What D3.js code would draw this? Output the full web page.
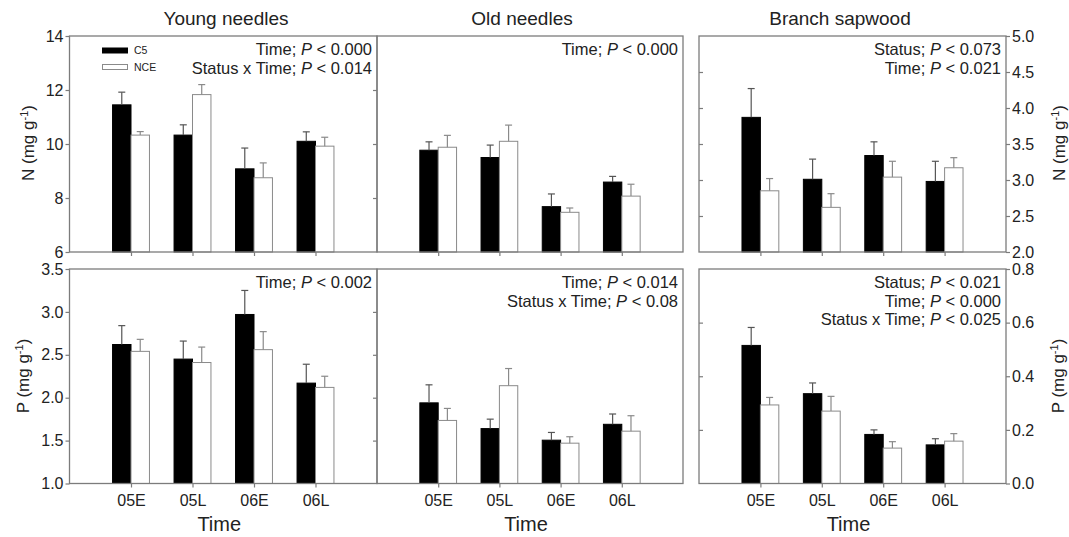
<!DOCTYPE html>
<html>
<head>
<meta charset="utf-8">
<script src="https://cdn.jsdelivr.net/npm/d3@7"></script>
<style>
  html, body { margin: 0; padding: 0; background: #fff; }
  svg { display: block; font-family: "Liberation Sans", Arial, sans-serif; }
</style>
</head>
<body>
<svg id="chart" width="1069" height="537"></svg>
<script>
// ---------------- DATA ----------------
const categories = ["05E", "05L", "06E", "06L"];
const seriesNames = ["C5", "NCE"];
const panelTitles = ["Young needles", "Old needles", "Branch sapwood"];

// N (mg g-1)
const youngN_C5 = [11.45, 10.33, 9.08, 10.10];
const youngN_C5_se = [0.47, 0.38, 0.77, 0.35];
const youngN_NCE = [10.33, 11.83, 8.75, 9.92];
const youngN_NCE_se = [0.13, 0.37, 0.55, 0.33];

const oldN_C5 = [9.77, 9.50, 7.68, 8.59];
const oldN_C5_se = [0.31, 0.46, 0.47, 0.21];
const oldN_NCE = [9.88, 10.10, 7.47, 8.07];
const oldN_NCE_se = [0.44, 0.60, 0.16, 0.44];

const sapN_C5 = [3.87, 3.01, 3.34, 2.98];
const sapN_C5_se = [0.40, 0.28, 0.19, 0.28];
const sapN_NCE = [2.85, 2.62, 3.04, 3.17];
const sapN_NCE_se = [0.17, 0.19, 0.22, 0.14];

// P (mg g-1)
const youngP_C5 = [2.62, 2.45, 2.97, 2.17];
const youngP_C5_se = [0.22, 0.21, 0.28, 0.22];
const youngP_NCE = [2.54, 2.41, 2.56, 2.12];
const youngP_NCE_se = [0.14, 0.18, 0.21, 0.13];

const oldP_C5 = [1.94, 1.64, 1.505, 1.69];
const oldP_C5_se = [0.21, 0.11, 0.09, 0.12];
const oldP_NCE = [1.735, 2.14, 1.47, 1.61];
const oldP_NCE_se = [0.14, 0.20, 0.075, 0.18];

const sapP_C5 = [0.515, 0.335, 0.183, 0.144];
const sapP_C5_se = [0.067, 0.04, 0.017, 0.023];
const sapP_NCE = [0.293, 0.27, 0.132, 0.158];
const sapP_NCE_se = [0.028, 0.055, 0.024, 0.028];

// axis tick values
const nTicksNeedles = [6, 8, 10, 12, 14];
const nTicksSap = [2.0, 2.5, 3.0, 3.5, 4.0, 4.5, 5.0];
const pTicksNeedles = [1.0, 1.5, 2.0, 2.5, 3.0, 3.5];
const pTicksSap = [0.0, 0.2, 0.4, 0.6, 0.8];

// statistics annotations: [prefix, italic, suffix]
const annYoungN = [["Time; ", "P", " < 0.000"], ["Status x Time; ", "P", " < 0.014"]];
const annOldN = [["Time; ", "P", " < 0.000"]];
const annSapN = [["Status; ", "P", " < 0.073"], ["Time; ", "P", " < 0.021"]];
const annYoungP = [["Time; ", "P", " < 0.002"]];
const annOldP = [["Time; ", "P", " < 0.014"], ["Status x Time; ", "P", " < 0.08"]];
const annSapP = [["Status; ", "P", " < 0.021"], ["Time; ", "P", " < 0.000"], ["Status x Time; ", "P", " < 0.025"]];

// ---------------- LAYOUT ----------------
const svg = d3.select("#chart");
const AX = "#7c7c7c";
const colX = [[69.5, 377], [377, 683], [699, 1006]];
const rowY = [[36, 252], [269, 483.5]];

const panels = [
  {col: 0, row: 0, dom: [6, 14], ticks: nTicksNeedles, fmt: d3.format("d"), c5: youngN_C5, c5se: youngN_C5_se, nce: youngN_NCE, ncese: youngN_NCE_se, ann: annYoungN},
  {col: 1, row: 0, dom: [6, 14], ticks: nTicksNeedles, fmt: d3.format("d"), c5: oldN_C5, c5se: oldN_C5_se, nce: oldN_NCE, ncese: oldN_NCE_se, ann: annOldN},
  {col: 2, row: 0, dom: [2, 5], ticks: nTicksSap, fmt: d3.format(".1f"), c5: sapN_C5, c5se: sapN_C5_se, nce: sapN_NCE, ncese: sapN_NCE_se, ann: annSapN},
  {col: 0, row: 1, dom: [1, 3.5], ticks: pTicksNeedles, fmt: d3.format(".1f"), c5: youngP_C5, c5se: youngP_C5_se, nce: youngP_NCE, ncese: youngP_NCE_se, ann: annYoungP},
  {col: 1, row: 1, dom: [1, 3.5], ticks: pTicksNeedles, fmt: d3.format(".1f"), c5: oldP_C5, c5se: oldP_C5_se, nce: oldP_NCE, ncese: oldP_NCE_se, ann: annOldP},
  {col: 2, row: 1, dom: [0, 0.8], ticks: pTicksSap, fmt: d3.format(".1f"), c5: sapP_C5, c5se: sapP_C5_se, nce: sapP_NCE, ncese: sapP_NCE_se, ann: annSapP}
];

const barW = 0.3; // in x-units
const scalesByPanel = panels.map(p => {
  const [x0, x1] = colX[p.col];
  const [y0, y1] = rowY[p.row];
  return {
    x: d3.scaleLinear().domain([0, categories.length + 1]).range([x0, x1]),
    y: d3.scaleLinear().domain(p.dom).range([y1, y0])
  };
});

panels.forEach((p, pi) => {
  const {x, y} = scalesByPanel[pi];
  const g = svg.append("g");
  const [x0, x1] = x.range();
  const [yb, yt] = y.range();

  // bars + error bars
  const pos = i => i + 1;
  const drawSeries = (vals, se, offset, fill, stroke, errCol) => {
    vals.forEach((v, i) => {
      const xl = x(pos(i) + offset);
      const w = x(barW) - x(0);
      g.append("rect")
        .attr("x", xl).attr("y", y(v))
        .attr("width", w).attr("height", y(p.dom[0]) - y(v))
        .attr("fill", fill).attr("stroke", stroke).attr("stroke-width", 1);
      const cx = xl + w / 2;
      g.append("line").attr("x1", cx).attr("x2", cx)
        .attr("y1", y(v)).attr("y2", y(v + se[i]))
        .attr("stroke", errCol).attr("stroke-width", 1.2);
      g.append("line").attr("x1", cx - 3.5).attr("x2", cx + 3.5)
        .attr("y1", y(v + se[i])).attr("y2", y(v + se[i]))
        .attr("stroke", errCol).attr("stroke-width", 1.2);
    });
  };
  drawSeries(p.c5, p.c5se, -barW, "#000", "#000", "#555");
  drawSeries(p.nce, p.ncese, 0, "#fff", "#8a8a8a", "#8a8a8a");

  // frame
  g.append("rect").attr("x", x0).attr("y", yt).attr("width", x1 - x0).attr("height", yb - yt)
    .attr("fill", "none").attr("stroke", AX).attr("stroke-width", 1.3);

  // bottom ticks
  const xAxis = d3.axisBottom(x).tickValues(categories.map((c, i) => i + 1))
    .tickSize(4).tickPadding(4).tickFormat(p.row === 1 ? (d => categories[d - 1]) : () => "");
  const gx = g.append("g").attr("transform", `translate(0,${yb})`).call(xAxis);
  gx.select(".domain").remove();
  gx.selectAll("line").attr("stroke", AX).attr("stroke-width", 1.2);
  gx.selectAll("text").attr("font-size", 16).attr("fill", "#222").attr("dy", "0.9em")
    .attr("font-family", "Liberation Sans, Arial, sans-serif");

  // y axes
  if (p.col === 0) {
    const ya = d3.axisLeft(y).tickValues(p.ticks).tickFormat(p.fmt).tickSize(4).tickPadding(2);
    const gy = g.append("g").attr("transform", `translate(${x0},0)`).call(ya);
    gy.select(".domain").remove();
    gy.selectAll("line").attr("stroke", AX).attr("stroke-width", 1.2);
    gy.selectAll("text").attr("font-size", 16).attr("fill", "#222")
      .attr("font-family", "Liberation Sans, Arial, sans-serif");
    // inner ticks on the right border
    const yi = d3.axisLeft(y).tickValues(p.ticks.slice(1, -1)).tickFormat("").tickSize(4);
    const gyi = g.append("g").attr("transform", `translate(${x1},0)`).call(yi);
    gyi.select(".domain").remove();
    gyi.selectAll("line").attr("stroke", AX).attr("stroke-width", 1.2);
  }
  if (p.col === 2) {
    const ya = d3.axisRight(y).tickValues(p.ticks).tickFormat(p.fmt).tickSize(4).tickPadding(2);
    const gy = g.append("g").attr("transform", `translate(${x1},0)`).call(ya);
    gy.select(".domain").remove();
    gy.selectAll("line").attr("stroke", AX).attr("stroke-width", 1.2);
    gy.selectAll("text").attr("font-size", 16).attr("fill", "#222")
      .attr("font-family", "Liberation Sans, Arial, sans-serif");
    const yi = d3.axisRight(y).tickValues(p.ticks.slice(1, -1)).tickFormat("").tickSize(4);
    const gyi = g.append("g").attr("transform", `translate(${x0},0)`).call(yi);
    gyi.select(".domain").remove();
    gyi.selectAll("line").attr("stroke", AX).attr("stroke-width", 1.2);
  }

  // annotations
  p.ann.forEach((line, li) => {
    const t = g.append("text")
      .attr("x", x1 - 5).attr("y", yt + 19 + li * 18.5)
      .attr("text-anchor", "end").attr("font-size", 16.5).attr("fill", "#222");
    t.append("tspan").text(line[0]);
    t.append("tspan").attr("font-style", "italic").text(line[1]);
    t.append("tspan").text(line[2]);
  });
});

// titles
const titleX = [226, 522, 840];
panelTitles.forEach((t, i) => {
  svg.append("text").attr("x", titleX[i]).attr("y", 25)
    .attr("text-anchor", "middle").attr("font-size", 19).attr("fill", "#222").text(t);
});

// x-axis titles
colX.forEach((c, i) => {
  svg.append("text").attr("x", (c[0] + c[1]) / 2 - 4).attr("y", 531)
    .attr("text-anchor", "middle").attr("font-size", 20).attr("fill", "#222").text("Time");
});

// y-axis titles
function yTitle(label, cx, cy) {
  const t = svg.append("text")
    .attr("transform", `translate(${cx},${cy}) rotate(-90)`)
    .attr("text-anchor", "middle").attr("font-size", 17).attr("fill", "#222");
  t.append("tspan").text(label + " (mg g");
  t.append("tspan").attr("font-size", 11).attr("baseline-shift", "super").text("-1");
  t.append("tspan").text(")");
}
yTitle("N", 34, 143);
yTitle("P", 28.5, 376);
yTitle("N", 1065, 143);
yTitle("P", 1064, 376);

// legend
const legendItems = seriesNames.map((s, i) => ({name: s, fill: i === 0 ? "#000" : "#fff", stroke: i === 0 ? "#000" : "#8a8a8a"}));
const lg = svg.append("g");
legendItems.forEach((d, i) => {
  lg.append("rect").attr("x", 102.5).attr("y", 48 + i * 16.5).attr("width", 25).attr("height", 5)
    .attr("fill", d.fill).attr("stroke", d.stroke).attr("stroke-width", 1);
  lg.append("text").attr("x", 134).attr("y", 50.5 + i * 16.5).attr("dy", "0.35em")
    .attr("font-size", 10.5).attr("fill", "#222").text(d.name);
});
</script>
</body>
</html>
